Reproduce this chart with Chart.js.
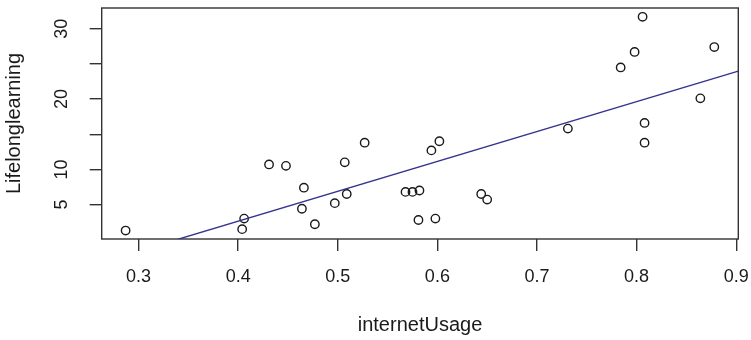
<!DOCTYPE html>
<html><head><meta charset="utf-8">
<script src="https://cdn.jsdelivr.net/npm/chart.js@4/dist/chart.umd.min.js"></script>
<style>html,body{margin:0;padding:0;background:#fff;} canvas{display:block;}</style>
</head><body>
<canvas id="c" width="751" height="340"></canvas>
<script>
// ---- data ----
const internetUsage = [0.287, 0.404, 0.406, 0.431, 0.448, 0.466, 0.464, 0.477, 0.497, 0.509, 0.507, 0.527,
  0.568, 0.575, 0.582, 0.581, 0.598, 0.594, 0.602, 0.644, 0.650, 0.731, 0.784, 0.798, 0.806, 0.808, 0.808, 0.864, 0.878];
const lifelongLearning = [1.3, 1.5, 3.0, 10.7, 10.5, 7.4, 4.4, 2.2, 5.2, 6.5, 11.0, 13.8,
  6.8, 6.8, 7.0, 2.8, 3.0, 12.7, 14.0, 6.5, 5.7, 15.8, 24.5, 26.7, 31.7, 16.6, 13.8, 20.1, 27.4];
const trendX = [0.263, 0.9021];
const trendY = [-3.19, 23.97];
const xTicks = [0.3, 0.4, 0.5, 0.6, 0.7, 0.8, 0.9];
const xTickLabels = ['0.3', '0.4', '0.5', '0.6', '0.7', '0.8', '0.9'];
const yTicks = [5, 10, 15, 20, 25, 30];
const yTickLabels = ['5', '10', '', '20', '', '30'];
const xTitle = 'internetUsage';
const yTitle = 'Lifelonglearning';
const xRange = [0.263, 0.9021];
const yRange = [0.1, 32.95];

const FONT = 'Liberation Sans, Arial, sans-serif';
const INK = '#1a1a1a';
const AXIS = '#333';

const boxPlugin = {
  id: 'box',
  beforeDatasetsDraw(chart) {
    const {ctx, chartArea: a} = chart;
    ctx.save();
    ctx.strokeStyle = AXIS;
    ctx.lineWidth = 1.4;
    ctx.strokeRect(a.left, a.top, a.right - a.left, a.bottom - a.top);
    ctx.restore();
  }
};

new Chart(document.getElementById('c'), {
  type: 'scatter',
  data: {
    datasets: [
      {
        type: 'line',
        data: trendX.map((x, i) => ({x: x, y: trendY[i]})),
        borderColor: '#33338f',
        borderWidth: 1.4,
        pointRadius: 0,
        fill: false,
        clip: 0
      },
      {
        data: internetUsage.map((x, i) => ({x: x, y: lifelongLearning[i]})),
        pointStyle: 'circle',
        pointRadius: 4.2,
        pointBorderWidth: 1.4,
        borderColor: '#1a1a1a',
        backgroundColor: 'rgba(0,0,0,0)',
        pointBackgroundColor: 'rgba(0,0,0,0)'
      }
    ]
  },
  options: {
    responsive: false,
    animation: false,
    devicePixelRatio: 1,
    layout: {padding: {top: 8, right: 12.7, left: 0, bottom: 0}},
    plugins: {legend: {display: false}, tooltip: {enabled: false}},
    scales: {
      x: {
        type: 'linear',
        position: 'bottom',
        min: xRange[0], max: xRange[1],
        afterBuildTicks: s => { s.ticks = xTicks.map(v => ({value: v})); },
        afterFit: s => { s.height = 101; s.paddingLeft = 0; s.paddingRight = 0; },
        ticks: {
          autoSkip: false, maxRotation: 0, minRotation: 0, padding: 15,
          color: INK, font: {family: FONT, size: 18},
          callback: (v, i) => xTickLabels[i]
        },
        grid: {drawOnChartArea: false, drawTicks: true, tickLength: 12, color: AXIS, tickColor: AXIS, lineWidth: 1.4},
        border: {display: false},
        title: {display: true, text: xTitle, color: INK, font: {family: FONT, size: 20}, padding: {top: 0, bottom: 3}}
      },
      y: {
        type: 'linear',
        position: 'left',
        min: yRange[0], max: yRange[1],
        afterBuildTicks: s => { s.ticks = yTicks.map(v => ({value: v})); },
        afterFit: s => { s.width = 101.7; s.paddingTop = 0; s.paddingBottom = 0; },
        ticks: {
          autoSkip: false, minRotation: 90, maxRotation: 90, crossAlign: 'center', padding: 18,
          color: INK, font: {family: FONT, size: 18},
          callback: (v, i) => yTickLabels[i]
        },
        grid: {drawOnChartArea: false, drawTicks: true, tickLength: 12, color: AXIS, tickColor: AXIS, lineWidth: 1.4},
        border: {display: false},
        title: {display: true, text: yTitle, color: INK, font: {family: FONT, size: 20}, padding: {top: 2, bottom: 0}}
      }
    }
  },
  plugins: [boxPlugin]
});
</script>
</body></html>
